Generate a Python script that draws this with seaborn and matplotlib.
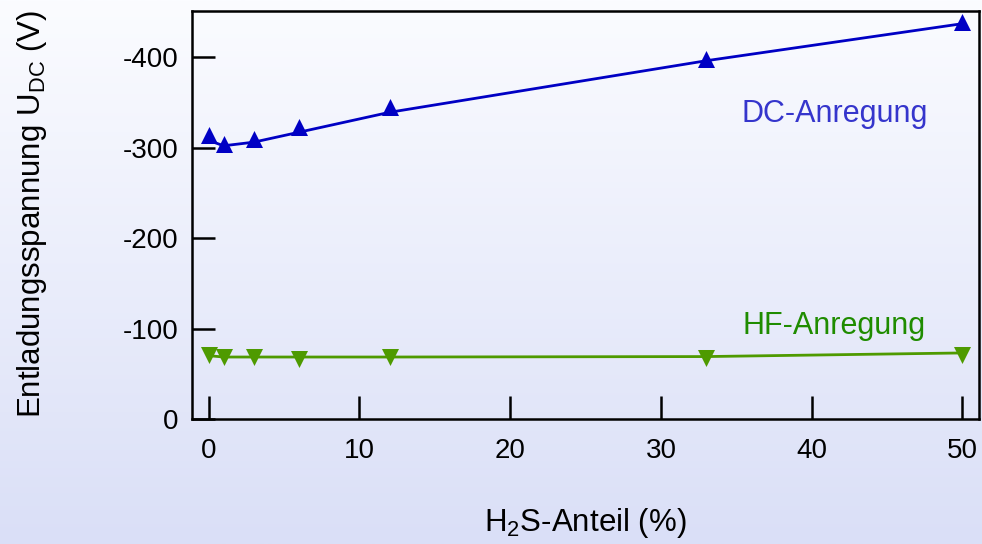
import numpy as np
import pandas as pd
import seaborn as sns
import matplotlib as mpl
import matplotlib.pyplot as plt
from matplotlib.colors import LinearSegmentedColormap

# ---- data ----
h2s_percent = [0, 1, 3, 6, 12, 33, 50]
dc_measured = [-314, -304, -310, -323, -345, -398, -439]
dc_fit = [-308, -302, -306, -317, -339, -396, -437]
hf_measured = [-71, -68, -68, -66, -68, -67.5, -71]
hf_fit = [-70, -68.5, -68.5, -68.5, -68.5, -69, -73]
x_ticks = [0, 10, 20, 30, 40, 50]
y_ticks = [0, -100, -200, -300, -400]

sns.set_theme(style="white")
plt.rcParams['font.family'] = ['Liberation Sans', 'DejaVu Sans']
plt.rcParams['mathtext.fontset'] = 'custom'
plt.rcParams['mathtext.rm'] = 'Liberation Sans'
plt.rcParams['mathtext.it'] = 'Liberation Sans:italic'
plt.rcParams['axes.unicode_minus'] = False
plt.rcParams['text.color'] = 'black'
plt.rcParams['axes.labelcolor'] = 'black'

blue = '#0000c4'
blue_text = '#3535cc'
green = '#4e9a00'
green_text = '#1f8c00'

fig = plt.figure(figsize=(9.82, 5.44), dpi=100)

# background gradient
bg = fig.add_axes([0, 0, 1, 1], zorder=0)
cmap = LinearSegmentedColormap.from_list('bg', ['#dadff7', '#fbfcff'])
grad = np.linspace(0, 1, 256).reshape(-1, 1)
bg.imshow(grad, aspect='auto', cmap=cmap, extent=[0, 1, 0, 1], origin='lower')
bg.axis('off')

ax = fig.add_axes([0.1955, 0.2298, 0.8015, 0.75], zorder=1)
ax.patch.set_alpha(0)

df = pd.DataFrame({'x': h2s_percent, 'dc': dc_measured, 'dcfit': dc_fit,
                   'hf': hf_measured, 'hffit': hf_fit})

sns.lineplot(data=df, x='x', y='dcfit', ax=ax, color=blue, linewidth=2.0)
sns.scatterplot(data=df, x='x', y='dc', ax=ax, marker='^', s=150, color=blue,
                edgecolor=blue, linewidth=0, zorder=3)
sns.lineplot(data=df, x='x', y='hffit', ax=ax, color=green, linewidth=2.0)
sns.scatterplot(data=df, x='x', y='hf', ax=ax, marker='v', s=150, color=green,
                edgecolor=green, linewidth=0, zorder=3)

ax.set_xlim(-1.1, 51.1)
ax.set_ylim(0, -451)
ax.set_xticks(x_ticks)
ax.set_yticks(y_ticks)
ax.set_xticklabels([str(t) for t in x_ticks])
ax.set_yticklabels([str(t) for t in y_ticks])

ax.tick_params(axis='both', direction='in', length=16.5, width=1.8, labelsize=20,
               colors='black', bottom=True, left=True, top=False, right=False)
ax.tick_params(axis='x', pad=14)
ax.tick_params(axis='y', pad=10)
for s in ax.spines.values():
    s.set_visible(True)
    s.set_color('black')
    s.set_linewidth(1.8)

ax.set_xlabel('H$_2$S-Anteil (%)', fontsize=22.5, color='black')
ax.set_ylabel('Entladungsspannung U$_{\\mathrm{DC}}$ (V)', fontsize=22.5, color='black')
ax.xaxis.set_label_coords(0.5, -0.213)
ax.yaxis.set_label_coords(-0.182, 0.502)

ax.text(41.5, -328, 'DC-Anregung', color=blue_text, fontsize=22,
        ha='center', va='baseline')
ax.text(41.5, -94, 'HF-Anregung', color=green_text, fontsize=22,
        ha='center', va='baseline')

fig.savefig('out.png', dpi=100)
